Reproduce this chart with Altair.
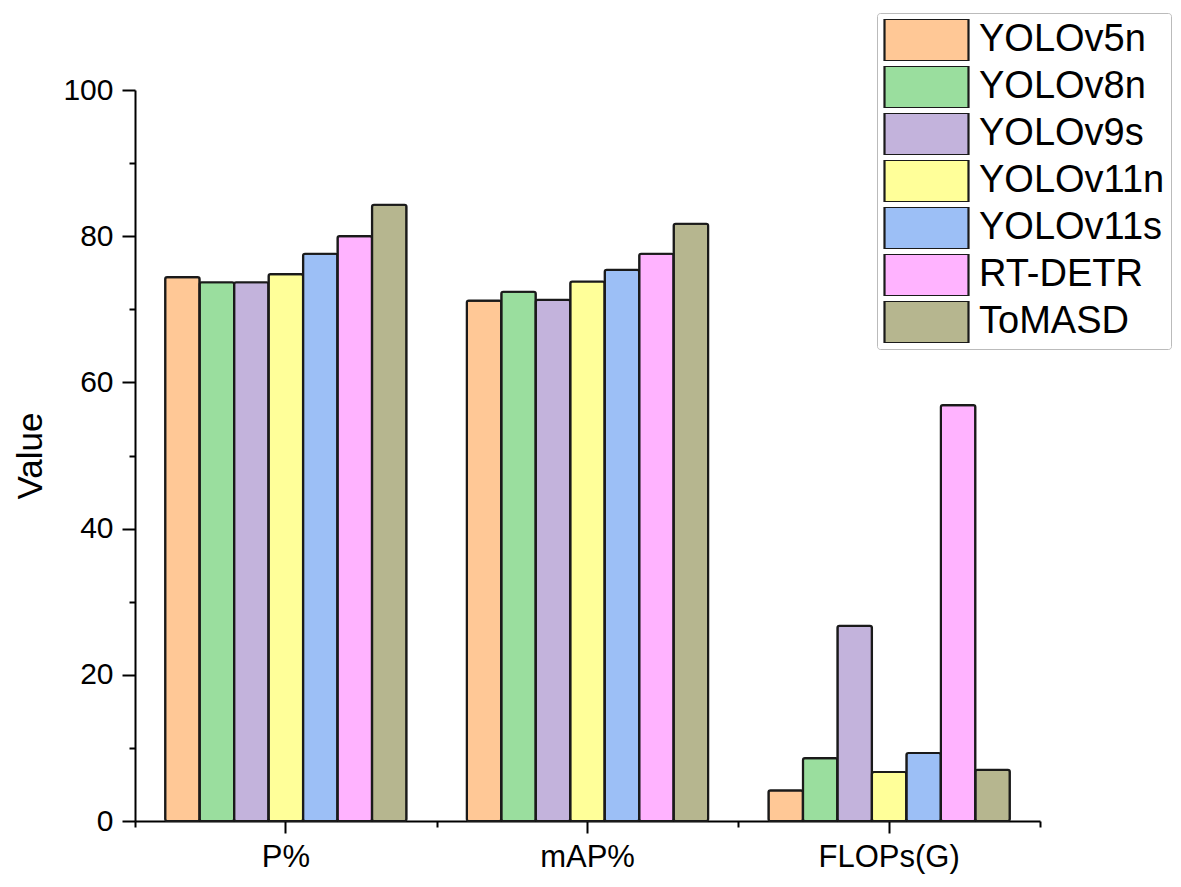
import altair as alt
import pandas as pd

metrics = ["P%", "mAP%", "FLOPs(G)"]
models = ["YOLOv5n", "YOLOv8n", "YOLOv9s", "YOLOv11n", "YOLOv11s", "RT-DETR", "ToMASD"]
colors = ["#FFC896", "#9ADE9E", "#C3B3DC", "#FFFF99", "#9CBFF6", "#FFB3FF", "#B6B68F"]

p_vals = [74.4, 73.7, 73.7, 74.8, 77.6, 80.0, 84.3]
map_vals = [71.2, 72.4, 71.3, 73.8, 75.4, 77.6, 81.7]
flops_vals = [4.2, 8.6, 26.7, 6.7, 9.3, 56.9, 7.0]

major_y = [0, 20, 40, 60, 80, 100]
minor_y = [10, 30, 50, 70, 90]
band_edges = [0, 1, 2, 3]

rows = []
for m, vals in zip(metrics, [p_vals, map_vals, flops_vals]):
    for mod, v in zip(models, vals):
        rows.append({"metric": m, "model": mod, "value": v})
df = pd.DataFrame(rows)

FONT = "Liberation Sans"

bars = alt.Chart(df).mark_bar(stroke="#1A1A1A", strokeWidth=2.2, cornerRadius=2).encode(
    x=alt.X("metric:N", sort=metrics,
            scale=alt.Scale(paddingInner=0.2, paddingOuter=0.1),
            axis=alt.Axis(title=None, labelAngle=0, tickSize=12, tickWidth=2, tickColor="#000",
                          domainWidth=2, domainColor="#000", labelFontSize=31, labelFont=FONT,
                          labelColor="#000", labelPadding=9, grid=False)),
    xOffset=alt.XOffset("model:N", sort=models, scale=alt.Scale(paddingInner=0, paddingOuter=0)),
    y=alt.Y("value:Q", scale=alt.Scale(domain=[0, 100], nice=False),
            axis=alt.Axis(title="Value", values=major_y, tickSize=13, tickWidth=2, tickColor="#000",
                          domainWidth=2, domainColor="#000", labelFontSize=30, labelFont=FONT,
                          labelColor="#000", labelPadding=9, grid=False,
                          titleFontSize=35, titleFont=FONT, titleFontWeight="normal",
                          titleColor="#000", titlePadding=14)),
    fill=alt.Fill("model:N", sort=models, scale=alt.Scale(domain=models, range=colors),
                  legend=alt.Legend(title=None, orient="none", legendX=742, legendY=-77,
                                    symbolType="M-1,-0.5H1V0.5H-1Z", symbolSize=7056,
                                    symbolStrokeColor="#1A1A1A", symbolStrokeWidth=2.2,
                                    clipHeight=42, rowPadding=5, labelFontSize=38, labelFont=FONT,
                                    labelColor="#000", labelOffset=9, labelLimit=400,
                                    padding=6, strokeColor="#BBBBBB", fillColor="#FFFFFF",
                                    cornerRadius=3)),
)

yminor = alt.Chart(pd.DataFrame({"v": minor_y})).mark_point(opacity=0).encode(
    y=alt.Y("v:Q", scale=alt.Scale(domain=[0, 100], nice=False),
            axis=alt.Axis(orient="left", values=minor_y, tickSize=6, tickWidth=2, tickColor="#000",
                          labels=False, domain=False, title=None, grid=False)),
)

xminor = alt.Chart(pd.DataFrame({"b": band_edges})).mark_point(opacity=0).encode(
    x=alt.X("b:Q", scale=alt.Scale(domain=[0, 3], nice=False, zero=False),
            axis=alt.Axis(orient="bottom", values=band_edges, tickSize=6, tickWidth=2, tickColor="#000",
                          labels=False, domain=False, title=None, grid=False)),
)

chart = alt.layer(bars, yminor, xminor).resolve_scale(x="independent").resolve_axis(
    x="independent", y="independent"
).properties(
    width=905, height=731,
    padding={"left": 127, "top": 82, "right": 133, "bottom": 60},
    autosize=alt.AutoSizeParams(type="none"),
    background="#FFFFFF",
).configure_view(stroke=None)

chart.save("out.html", embed_options={"renderer": "svg", "actions": False})
